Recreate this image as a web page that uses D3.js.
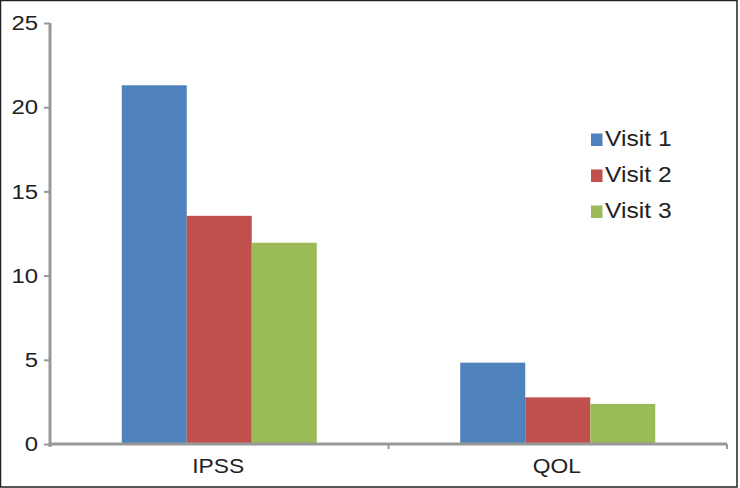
<!DOCTYPE html>
<html><head><meta charset="utf-8">
<script src="https://cdn.jsdelivr.net/npm/d3@7"></script>
<style>body{margin:0;background:#fff}svg{display:block}</style>
</head><body>
<script>
const categories = ["IPSS", "QOL"];
const seriesNames = ["Visit 1", "Visit 2", "Visit 3"];
const visit1 = [21.3, 4.83];
const visit2 = [13.55, 2.77];
const visit3 = [11.95, 2.38];
const yTicks = [0, 5, 10, 15, 20, 25];
const colors = ["#4F81BD", "#C0504D", "#9BBB59"];

const W = 740, H = 488;
const svg = d3.select("body").append("svg").attr("width", W).attr("height", H);
svg.append("rect").attr("x", 0.5).attr("y", 0.5).attr("width", 736.5).attr("height", 486.5)
  .attr("fill", "#fff").attr("stroke", "#222").attr("stroke-width", 1.5);

const mLeft = 50, mRight = 727, mTop = 23, mBottom = 444;
const sx = 1.14;
const x = d3.scaleBand().domain(categories).range([mLeft, mRight]).paddingInner(0).paddingOuter(0);
const x1 = d3.scaleBand().domain(seriesNames).range([0, x.bandwidth()]).paddingOuter(1.104).paddingInner(0);
const y = d3.scaleLinear().domain([0, 25]).range([mBottom, mTop]);

const series = [visit1, visit2, visit3];
const g = svg.append("g");
categories.forEach((c, ci) => {
  series.forEach((s, si) => {
    g.append("rect")
      .attr("x", x(c) + x1(seriesNames[si]))
      .attr("y", y(s[ci]))
      .attr("width", x1.bandwidth())
      .attr("height", y(0) - y(s[ci]))
      .attr("fill", colors[si]);
  });
});

const axisColor = "#989898";
const font = "Arial, 'Liberation Sans', sans-serif";
// Y axis
const yAxis = svg.append("g").attr("transform", `translate(${mLeft},0)`)
  .call(d3.axisLeft(y).tickValues(yTicks).tickSize(6).tickPadding(6));
yAxis.select(".domain").attr("stroke", axisColor).attr("stroke-width", 3)
  .attr("d", `M0,${mTop}V${mBottom + 3}`);
yAxis.selectAll(".tick line").attr("stroke", axisColor).attr("stroke-width", 2);
yAxis.selectAll(".tick text").each(function() {
  const t = d3.select(this);
  const tx = +t.attr("x");
  t.attr("x", 0).attr("transform", `translate(${tx},0) scale(${sx},1)`);
}).attr("fill", "#222").style("font-family", font).style("font-size", "21px");

// X axis
const xAxis = svg.append("g").attr("transform", `translate(0,${mBottom})`);
xAxis.append("line").attr("x1", mLeft).attr("x2", mRight).attr("y1", 0).attr("y2", 0)
  .attr("stroke", axisColor).attr("stroke-width", 3);
const boundaries = [x(categories[0]) + x.bandwidth(), mRight];
boundaries.forEach(b => {
  xAxis.append("line").attr("x1", b).attr("x2", b).attr("y1", 0).attr("y2", 5)
    .attr("stroke", axisColor).attr("stroke-width", 2);
});
categories.forEach(c => {
  xAxis.append("text")
    .attr("transform", `translate(${x(c) + x.bandwidth() / 2 - 1},29) scale(${sx},1)`)
    .attr("text-anchor", "middle").attr("fill", "#222")
    .style("font-family", font).style("font-size", "20px").text(c);
});

// Legend
const leg = svg.append("g");
seriesNames.forEach((n, i) => {
  const base = 146 + i * 36;
  leg.append("rect").attr("x", 591).attr("y", base - 12.5).attr("width", 11.5).attr("height", 12.5).attr("fill", colors[i]);
  leg.append("text").attr("transform", `translate(605,${base}) scale(1.12,1)`).attr("fill", "#222")
    .style("font-family", font).style("font-size", "22px").text(n);
});
</script>
</body></html>
